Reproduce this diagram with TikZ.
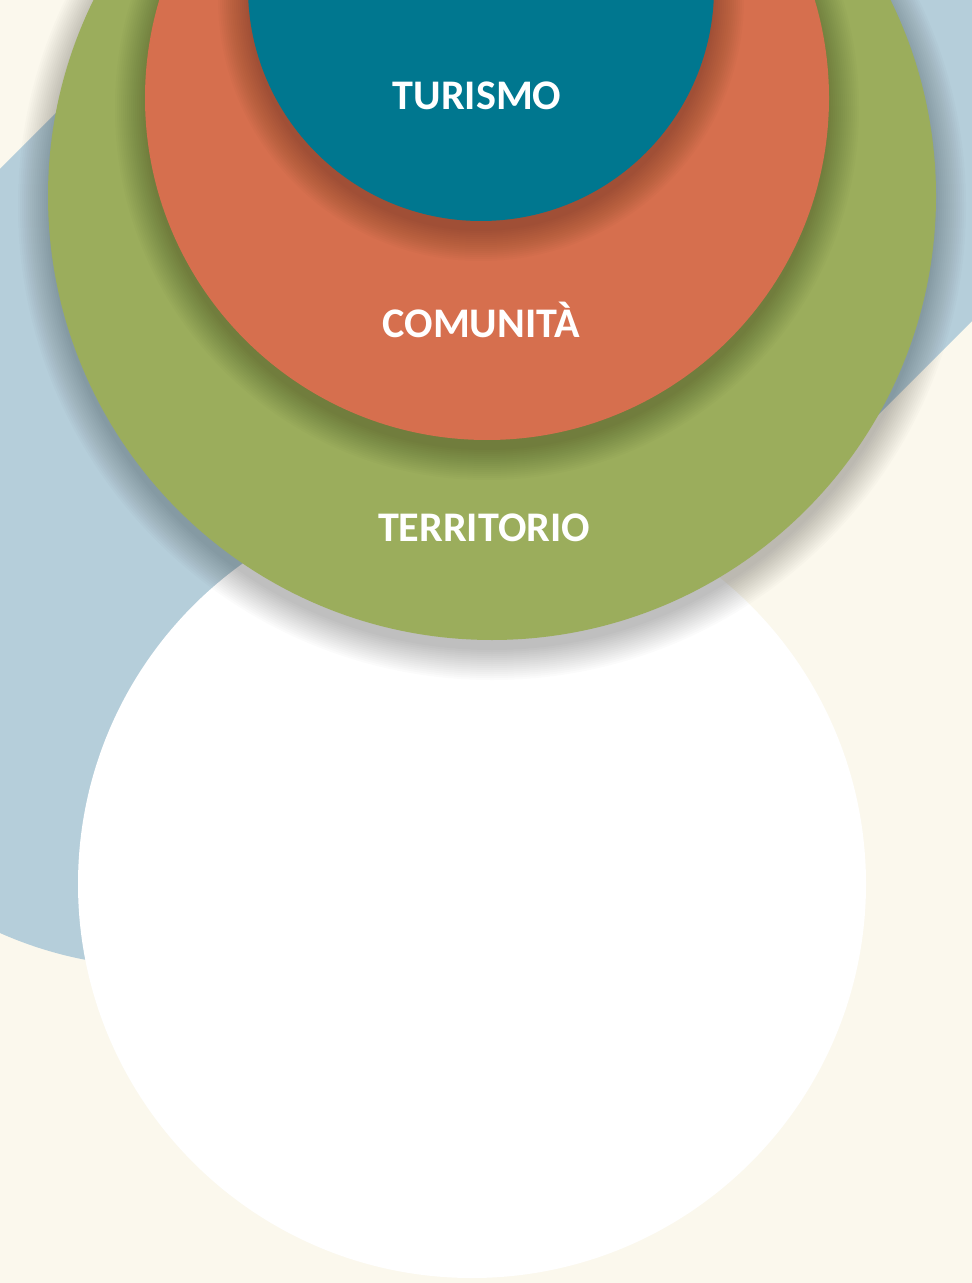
\documentclass[tikz,border=0pt]{standalone}
\usepackage{fontspec}
\setsansfont{Carlito}
\usepackage{xcolor}
\usepackage{tikz}
\usetikzlibrary{positioning}
\definecolor{bgcream}{RGB}{251,248,237}
\definecolor{bandblue}{RGB}{181,206,218}
\definecolor{terrgreen}{RGB}{155,173,92}
\definecolor{comorange}{RGB}{214,111,78}
\definecolor{turteal}{RGB}{0,119,143}

\begin{document}
\begin{tikzpicture}[
                x=0.02cm, y=-0.02cm,
                font=\sffamily,
                ringlabel/.style={font=\sffamily\bfseries\fontsize{24}{28}\selectfont, text=white, inner sep=0pt},
                ringshadow/.style={black, opacity=0.014}
                ]
                \useasboundingbox (0,0) rectangle (972,1283);
                \fill[bgcream] (0,0) rectangle (972,1283);

                % diagonal band behind the rings
                \fill[bandblue] (161,570) circle (397);
                \fill[bandblue] (-120,289) -- (442,851) -- (1942,-649) -- (1380,-1211) -- cycle;

                \fill[white] (472,884) circle (394);

                % soft shadows, then the rings
                \foreach \k in {1,...,16}
                    \fill[ringshadow] (492,206) circle ({444+32-2*\k});
                \fill[terrgreen] (492,196) circle (444);

                \foreach \k in {1,...,16}
                    \fill[ringshadow] (487,108) circle ({342+32-2*\k});
                \fill[comorange] (487,98) circle (342);

                \foreach \k in {1,...,16}
                    \fill[ringshadow] (481,-2) circle ({233+32-2*\k});
                \fill[turteal] (481,-12) circle (233);

                \node[ringlabel] (turismo) at (477,96) {TURISMO};
                \node[ringlabel] (comunita) at (481,320) {COMUNITÀ};
                \node[ringlabel] (territorio) at (484,528) {TERRITORIO};
            \end{tikzpicture}
\end{document}
